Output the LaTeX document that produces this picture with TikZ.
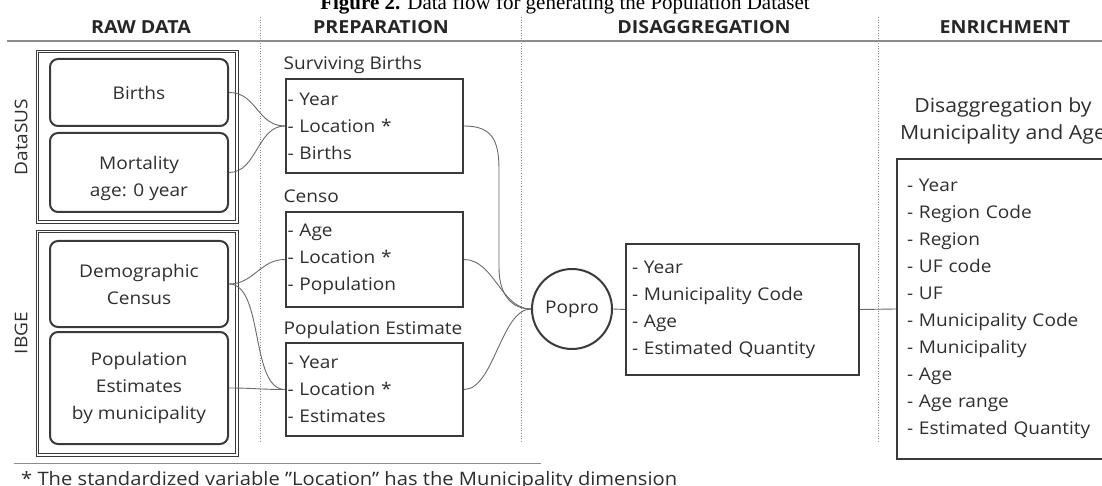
\documentclass[tikz,border=0pt]{standalone}
\usepackage{fontspec}
\setmainfont{Open Sans}[FakeStretch=1.09]
\newfontfamily\capfont{Liberation Serif}
\usepackage{tikz}
\definecolor{boxgray}{HTML}{3A3A3A}
\definecolor{wiregray}{HTML}{6A6A6A}
\definecolor{rulegray}{HTML}{8C8C8C}
\definecolor{textgray}{HTML}{2E2E2E}
\tikzset{
	groupline/.style={draw=boxgray, line width=0.9pt},
	rawbox/.style={draw=boxgray, line width=2pt, rounded corners=8pt, minimum width=178pt, align=center, inner sep=0},
	prepbox/.style={draw=boxgray, line width=2pt, minimum width=177pt, text width=174pt, inner xsep=1.5pt, inner ysep=0, align=left},
	headtext/.style={font=\fontsize{18}{22}\selectfont\bfseries, text=black!85},
	wire/.style={draw=wiregray, line width=0.9pt},
	sepline/.style={draw=rulegray, line width=1pt, dash pattern=on 1pt off 1.6pt},
}

\begin{document}
\begin{tikzpicture}[x=1pt, y=-1pt, font=\fontsize{17.5}{27}\selectfont, text=textgray]
	\useasboundingbox (0,0) rectangle (1102,486);
	% Caption, headers and rules:
	\node[anchor=base, inner sep=0, text=black, font=\capfont\fontsize{21}{24}\selectfont] (Cap) at (565,10) {\textbf{Figure 2.} Data flow for generating the Population Dataset};
	\node[headtext] (H1) at (141,27.4) {RAW DATA};
	\node[headtext] (H2) at (381,27.4) {PREPARATION};
	\node[headtext] (H3) at (704,27.4) {DISAGGREGATION};
	\node[headtext] (H4) at (1005,27.4) {ENRICHMENT};
	\draw[rulegray, line width=1.4pt] (7,41) -- (1102,41);
	\draw[sepline] (260,17) -- (260,442);
	\draw[sepline] (521,17) -- (521,442);
	\draw[sepline] (878,17) -- (878,442);
	% Raw data:
	\draw[groupline] (36,50) rectangle (238,223);
	\draw[groupline] (38.5,52.5) rectangle (235.5,220.5);
	\draw[groupline] (36,230) rectangle (238,456);
	\draw[groupline] (38.5,232.5) rectangle (235.5,453.5);
	\node[rotate=90] (Side1) at (21,137) {DataSUS};
	\node[rotate=90] (Side2) at (21,333) {IBGE};
	\node[rawbox, minimum height=67pt] (Rect1) at (139,92.5) {Births};
	\node[rawbox, minimum height=79pt] (Rect2) at (139,172.5) {};
	\node[align=center, inner sep=0] (Txt2) at ([yshift=-6pt]Rect2.center) {Mortality\\age: 0 year};
	\node[rawbox, minimum height=86pt] (Rect3) at (139,284) {Demographic\\Census};
	\node[rawbox, minimum height=112pt] (Rect4) at (139,388) {Population\\Estimates\\by municipality};
	% Preparation:
	\node[prepbox, minimum height=94pt] (Rect5) at (374.5,126) {- Year\\- Location *\\- Births};
	\node[prepbox, minimum height=95pt] (Rect6) at (374.5,259.5) {- Age\\- Location *\\- Population};
	\node[prepbox, minimum height=93pt] (Rect7) at (374.5,389.5) {- Year\\- Location *\\- Estimates};
	\node[anchor=base west, inner sep=0] (Lbl1) at ([xshift=-1.5pt, yshift=8pt]Rect5.north west) {Surviving Births};
	\node[anchor=base west, inner sep=0] (Lbl2) at ([xshift=-1.5pt, yshift=8pt]Rect6.north west) {Censo};
	\node[anchor=base west, inner sep=0] (Lbl3) at ([xshift=-1.5pt, yshift=8pt]Rect7.north west) {Population Estimate};
	% Disaggregation and enrichment:
	\node[circle, draw=boxgray, line width=2pt, minimum size=80pt, inner sep=0] (N1) at (572,309) {Popro};
	\node[prepbox, minimum width=233pt, text width=221pt, inner xsep=6pt, minimum height=131pt] (Rect8) at (742.5,309.5) {- Year\\- Municipality Code\\- Age\\- Estimated Quantity};
	\node[prepbox, minimum width=220pt, text width=200pt, inner xsep=10pt, minimum height=300pt] (Rect9) at (1007,309) {- Year\\- Region Code\\- Region\\- UF code\\- UF\\- Municipality Code\\- Municipality\\- Age\\- Age range\\- Estimated Quantity};
	\node[align=center, inner sep=0, font=\fontsize{19.5}{27}\selectfont] (Lbl4) at (1003,121) {Disaggregation by\\Municipality and Age};
	% Wires:
	\draw[wire] (Rect1.east) .. controls +(28,0) and +(-28,0) .. (Rect5.west);
	\draw[wire] (Rect2.east) .. controls +(28,0) and +(-28,0) .. (Rect5.west);
	\draw[wire] (Rect3.east) .. controls +(25,0) and +(-25,0) .. (Rect6.west);
	\draw[wire] (Rect3.east) .. controls +(35,0) and +(-35,0) .. (Rect7.west);
	\draw[wire] (Rect4.east) .. controls +(25,0) and +(-25,0) .. (Rect7.west);
	\coordinate (K1) at (499,170);
	\coordinate (K2) at (499,268);
	\draw[wire] (Rect5.east) .. controls +(28,0) and +(0,-30) .. (K1) -- (K2) .. controls +(0,26) and +(-20,0) .. (N1.west);
	\draw[wire] (Rect6.east) .. controls +(30,0) and +(-30,0) .. (N1.west);
	\draw[wire] (Rect7.east) .. controls +(30,0) and +(-30,0) .. (N1.west);
	\draw[wire] (N1.east) -- (Rect8.west);
	\draw[wire] (Rect8.east) -- (Rect9.west);
	% Footnote:
	\draw[rulegray, line width=1pt] (14,463) -- (541,463);
	\node[anchor=base west, inner sep=0, font=\fontsize{18.5}{22}\selectfont] (Note) at (21,485) {* The standardized variable \symbol{34}Location\symbol{34} has the Municipality dimension};
\end{tikzpicture}
\end{document}
